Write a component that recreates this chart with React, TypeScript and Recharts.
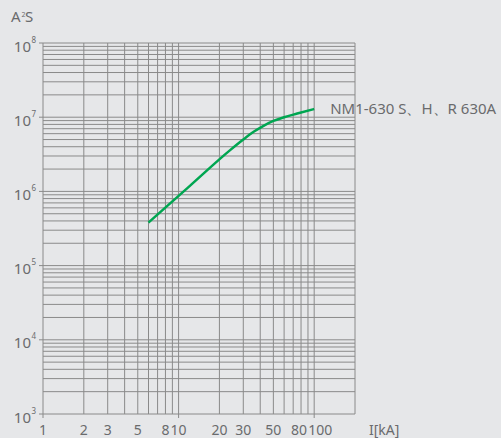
import React from "react";
import { LineChart, Line, XAxis, YAxis, ReferenceLine } from "recharts";

// Let-through energy I²t vs prospective current
const currentKA = [6, 12, 24, 30, 36, 42, 50, 60, 75, 100];
const i2tValues = [3.8e5, 1.17e6, 3.6e6, 5.0e6, 6.4e6, 7.6e6, 8.9e6, 1.0e7, 1.12e7, 1.29e7];
const seriesName = "NM1-630 S、H、R 630A";

const xTickLabels = [1, 2, 3, 5, 8, 10, 20, 30, 50, 80, 100];
const xMajor = [1, 10, 100];
const xGrid = [1, 2, 3, 4, 5, 6, 7, 8, 9, 10, 20, 30, 40, 50, 60, 70, 80, 90, 100, 200];
const yTickExps = [3, 4, 5, 6, 7, 8];
const yGrid: number[] = [];
for (let e = 3; e < 8; e++) for (let m = 1; m <= 9; m++) yGrid.push(m * Math.pow(10, e));
yGrid.push(1e8);

const data = currentKA.map((c, i) => ({ x: c, y: i2tValues[i] }));

const FONT = "'Noto Sans', 'Open Sans', sans-serif";
const TEXT = "#6a6b6d";
const GRID = "#8a8a8a";
const GREEN = "#00a651";

const XTick = (props: any) => {
  const { x, y, payload } = props;
  const v = payload.value;
  const dx = v === 100 ? 6 : v === 80 ? -2 : 0;
  return (
    <g>
      {xMajor.includes(v) && <line x1={x} x2={x} y1={y} y2={y + 4} stroke={GRID} />}
      <text x={x + dx} y={y + 21} textAnchor="middle" fontSize={14} fill={TEXT} fontFamily={FONT}>
        {v}
      </text>
    </g>
  );
};

const YTick = (props: any) => {
  const { x, y, payload } = props;
  const e = Math.round(Math.log10(payload.value));
  return (
    <g>
      <line x1={x - 4} x2={x} y1={y} y2={y} stroke={GRID} />
      <text x={x - 12} y={y + 8.5} textAnchor="end" fontSize={15} fill={TEXT} fontFamily={FONT}>
        10
      </text>
      <text x={x - 11.5} y={y - 0.5} textAnchor="start" fontSize={8} fill={TEXT} fontFamily={FONT}>
        {e}
      </text>
    </g>
  );
};

const EndLabel = (props: any) => {
  const { x, y, index } = props;
  if (index !== data.length - 1) return null;
  return (
    <text x={x + 16} y={y + 5} fontSize={15} fill={TEXT} fontFamily={FONT}>
      {seriesName}
    </text>
  );
};

export default function App() {
  return (
    <div style={{ position: "absolute", left: 0, top: 0, width: 501, height: 438, background: "#e6e7e9" }}>
      <svg style={{ position: "absolute", left: 0, top: 0 }} width={60} height={30}>
        <text x={11} y={22} fontSize={15} fill={TEXT} fontFamily={FONT}>A</text>
        <text x={21.5} y={17} fontSize={7} fill={TEXT} fontFamily={FONT}>2</text>
        <text x={25} y={22} fontSize={15} fill={TEXT} fontFamily={FONT}>S</text>
      </svg>
      <svg style={{ position: "absolute", left: 0, top: 0 }} width={501} height={438}>
        <text x={369} y={435} fontSize={14} fill={TEXT} fontFamily={FONT}>I[kA]</text>
      </svg>
      <div style={{ position: "absolute", left: 0, top: 0 }}>
        <LineChart width={501} height={438} data={data} margin={{ top: 43, right: 146, bottom: 0, left: 0 }}>
          <XAxis
            dataKey="x"
            type="number"
            scale="log"
            domain={[1, 200]}
            ticks={xTickLabels}
            interval={0}
            axisLine={false}
            tickLine={false}
            tickSize={0}
            tickMargin={0}
            height={24}
            tick={<XTick />}
            allowDataOverflow
          />
          <YAxis
            type="number"
            scale="log"
            domain={[1e3, 1e8]}
            ticks={yTickExps.map((e) => Math.pow(10, e))}
            interval={0}
            axisLine={false}
            tickLine={false}
            tickSize={0}
            tickMargin={0}
            width={43}
            tick={<YTick />}
            allowDataOverflow
          />
          {xGrid.map((v) => (
            <ReferenceLine key={"x" + v} x={v} stroke={GRID} strokeWidth={1} ifOverflow="visible" />
          ))}
          {yGrid.map((v) => (
            <ReferenceLine key={"y" + v} y={v} stroke={GRID} strokeWidth={1} ifOverflow="visible" />
          ))}
          <Line
            dataKey="y"
            type="monotone"
            stroke={GREEN}
            strokeWidth={2.5}
            dot={false}
            isAnimationActive={false}
            label={<EndLabel />}
          />
        </LineChart>
      </div>
    </div>
  );
}
